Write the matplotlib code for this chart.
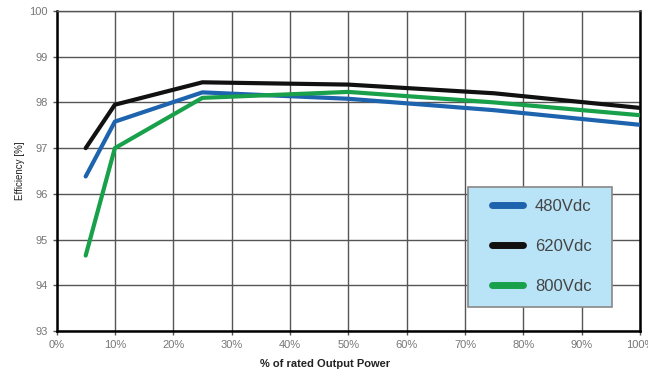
import matplotlib.pyplot as plt
from matplotlib.lines import Line2D
from matplotlib.patches import Rectangle
from matplotlib.ticker import FuncFormatter

plt.rcParams['font.family'] = ['Liberation Sans', 'DejaVu Sans']

# percent of rated output power
load = [5, 10, 25, 50, 75, 100]
eff_480 = [96.38, 97.58, 98.22, 98.08, 97.83, 97.51]
eff_620 = [97.0, 97.95, 98.44, 98.39, 98.2, 97.88]
eff_800 = [94.65, 97.0, 98.1, 98.23, 98.0, 97.72]
series = ["480Vdc", "620Vdc", "800Vdc"]
colors = ["#1e63ae", "#111111", "#18a04a"]

fig = plt.figure(figsize=(6.48, 3.74), dpi=100)
ax = fig.add_axes([0.0872, 0.115, 0.9005, 0.8556])

for vals, c, name in zip([eff_480, eff_620, eff_800], colors, series):
    ax.plot(load, vals, color=c, lw=3.0, solid_capstyle='round', label=name, zorder=3)

ax.set_xlim(0, 100)
ax.set_ylim(93, 100)
ax.set_xticks(range(0, 101, 10))
ax.set_yticks(range(93, 101))
ax.xaxis.set_major_formatter(FuncFormatter(lambda v, p: f"{int(v)}%"))
ax.grid(True, color="#555555", lw=1.0)
ax.tick_params(colors="#555555", labelsize=8, length=3, width=1, labelcolor="#777777")

for side in ['left', 'bottom', 'right']:
    ax.spines[side].set_linewidth(1.8)
    ax.spines[side].set_color('black')
ax.spines['top'].set_linewidth(1.0)
ax.spines['top'].set_color('#555555')

ax.set_ylabel("Efficiency [%]", fontsize=7, color="#222222", labelpad=3)
fig.text(0.502, 0.02, "% of rated Output Power", fontsize=8, fontweight='bold',
         color="#222222", ha='center')

# legend box (light blue panel), entries drawn on top of it
ax.add_patch(Rectangle((0.7052, 0.075), 0.247, 0.375, transform=ax.transAxes,
                       facecolor="#b9e4f8", edgecolor="#888888", lw=1.2, zorder=4))
handles = [Line2D([0], [0], color=c, lw=5, solid_capstyle='round') for c in colors]
leg = ax.legend(handles, series, loc='upper left', bbox_to_anchor=(0.7455, 0.414),
                fontsize=12, frameon=False, handlelength=1.9, handletextpad=0.7,
                labelspacing=1.51, borderpad=0, borderaxespad=0)
leg.set_zorder(5)
for t in leg.get_texts():
    t.set_color("#444444")

fig.savefig("out.png", dpi=100)
